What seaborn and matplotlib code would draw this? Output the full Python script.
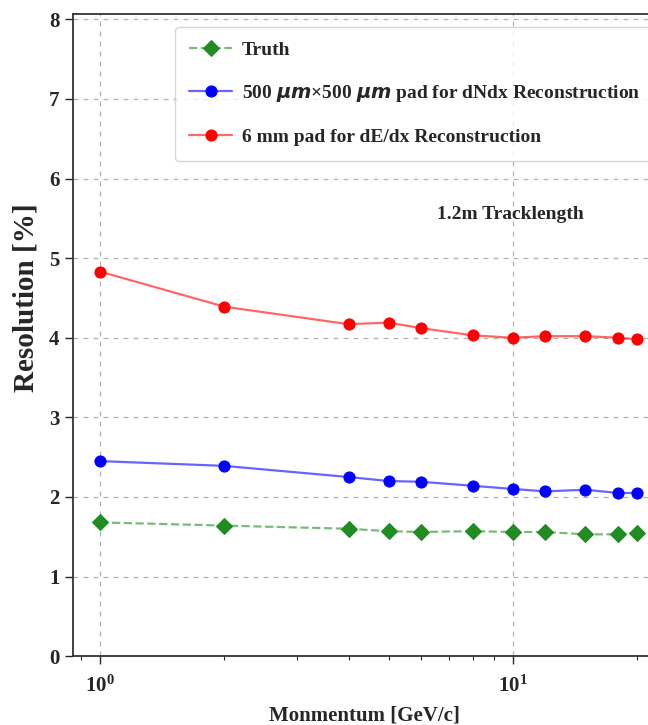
import matplotlib
matplotlib.use("Agg")
import matplotlib.pyplot as plt
import seaborn as sns
import pandas as pd

momentum = [1, 2, 4, 5, 6, 8, 10, 12, 15, 18, 20]
truth = [1.68, 1.64, 1.60, 1.57, 1.56, 1.57, 1.56, 1.56, 1.53, 1.53, 1.55]
dndx_500um = [2.45, 2.39, 2.25, 2.20, 2.19, 2.14, 2.10, 2.07, 2.09, 2.05, 2.05]
dedx_6mm = [4.83, 4.39, 4.17, 4.19, 4.12, 4.03, 4.00, 4.02, 4.02, 4.00, 3.98]

labels = [
    "Truth",
    r"500 $\mu m$$\times$500 $\mu m$ pad for dNdx Reconstruction",
    "6 mm pad for dE/dx Reconstruction",
]

sns.set_theme(style="ticks")
plt.rcParams["font.family"] = ["Liberation Serif", "DejaVu Serif"]
plt.rcParams["font.weight"] = "bold"
plt.rcParams["mathtext.fontset"] = "custom"
plt.rcParams["mathtext.rm"] = "Liberation Serif:bold"
plt.rcParams["mathtext.it"] = "DejaVu Sans:italic"
plt.rcParams["mathtext.bf"] = "Liberation Serif:bold"

df = pd.DataFrame({
    "p": momentum * 3,
    "res": truth + dndx_500um + dedx_6mm,
    "kind": [labels[0]] * 11 + [labels[1]] * 11 + [labels[2]] * 11,
})

fig = plt.figure(figsize=(6.48, 7.25), dpi=100)
ax = fig.add_axes([0.113, 0.095, 0.90, 0.886])

styles = [
    ((0.13, 0.55, 0.13), "D", "--"),
    ((0.0, 0.0, 1.0), "o", "-"),
    ((1.0, 0.0, 0.0), "o", "-"),
]
for lab, (col, mk, ls) in zip(labels, styles):
    sub = df[df["kind"] == lab]
    sns.lineplot(data=sub, x="p", y="res", ax=ax, label=lab, marker=mk,
                 linestyle=ls, markersize=8 if mk == "o" else 8.5, linewidth=1.6)
    line = ax.get_lines()[-1]
    line.set_color((*col, 0.6))
    line.set_markerfacecolor(col)
    line.set_markeredgecolor(col)

ax.set_xscale("log")
ax.set_xlim(0.86, 22.3)
ax.set_ylim(0, 8.07)
ax.set_yticks(range(0, 9))
ax.grid(True, which="major", linestyle=(0, (4, 4)), color="gray", alpha=0.6, linewidth=0.9)
ax.tick_params(axis="both", which="major", labelsize=15, length=6, width=1)
ax.tick_params(axis="y", which="major", pad=4)
ax.tick_params(axis="x", which="major", pad=8)
ax.tick_params(axis="x", which="minor", length=3, width=0.8)
for lbl in ax.get_yticklabels():
    lbl.set_fontweight("bold")
for s in ["top", "bottom", "left", "right"]:
    ax.spines[s].set_linewidth(1.3)
    ax.spines[s].set_color("#333333")

ax.set_xlabel("Monmentum [GeV/c]", fontsize=15, fontweight="bold", labelpad=6)
ax.set_ylabel("Resolution [%]", fontsize=21, fontweight="bold")
ax.yaxis.set_label_coords(-0.058, 0.558)

ax.text(9.85, 5.55, "1.2m Tracklength", fontsize=14, fontweight="bold", ha="center", va="center")

leg = ax.legend(loc="upper left", bbox_to_anchor=(0.174, 0.98), borderaxespad=0,
                fontsize=14, frameon=True, borderpad=0.75, labelspacing=1.25,
                handlelength=2.2, handletextpad=0.5)
leg.get_frame().set_edgecolor("#cccccc")
for t in leg.get_texts():
    t.set_fontweight("bold")

fig.savefig("out.png", dpi=100)
